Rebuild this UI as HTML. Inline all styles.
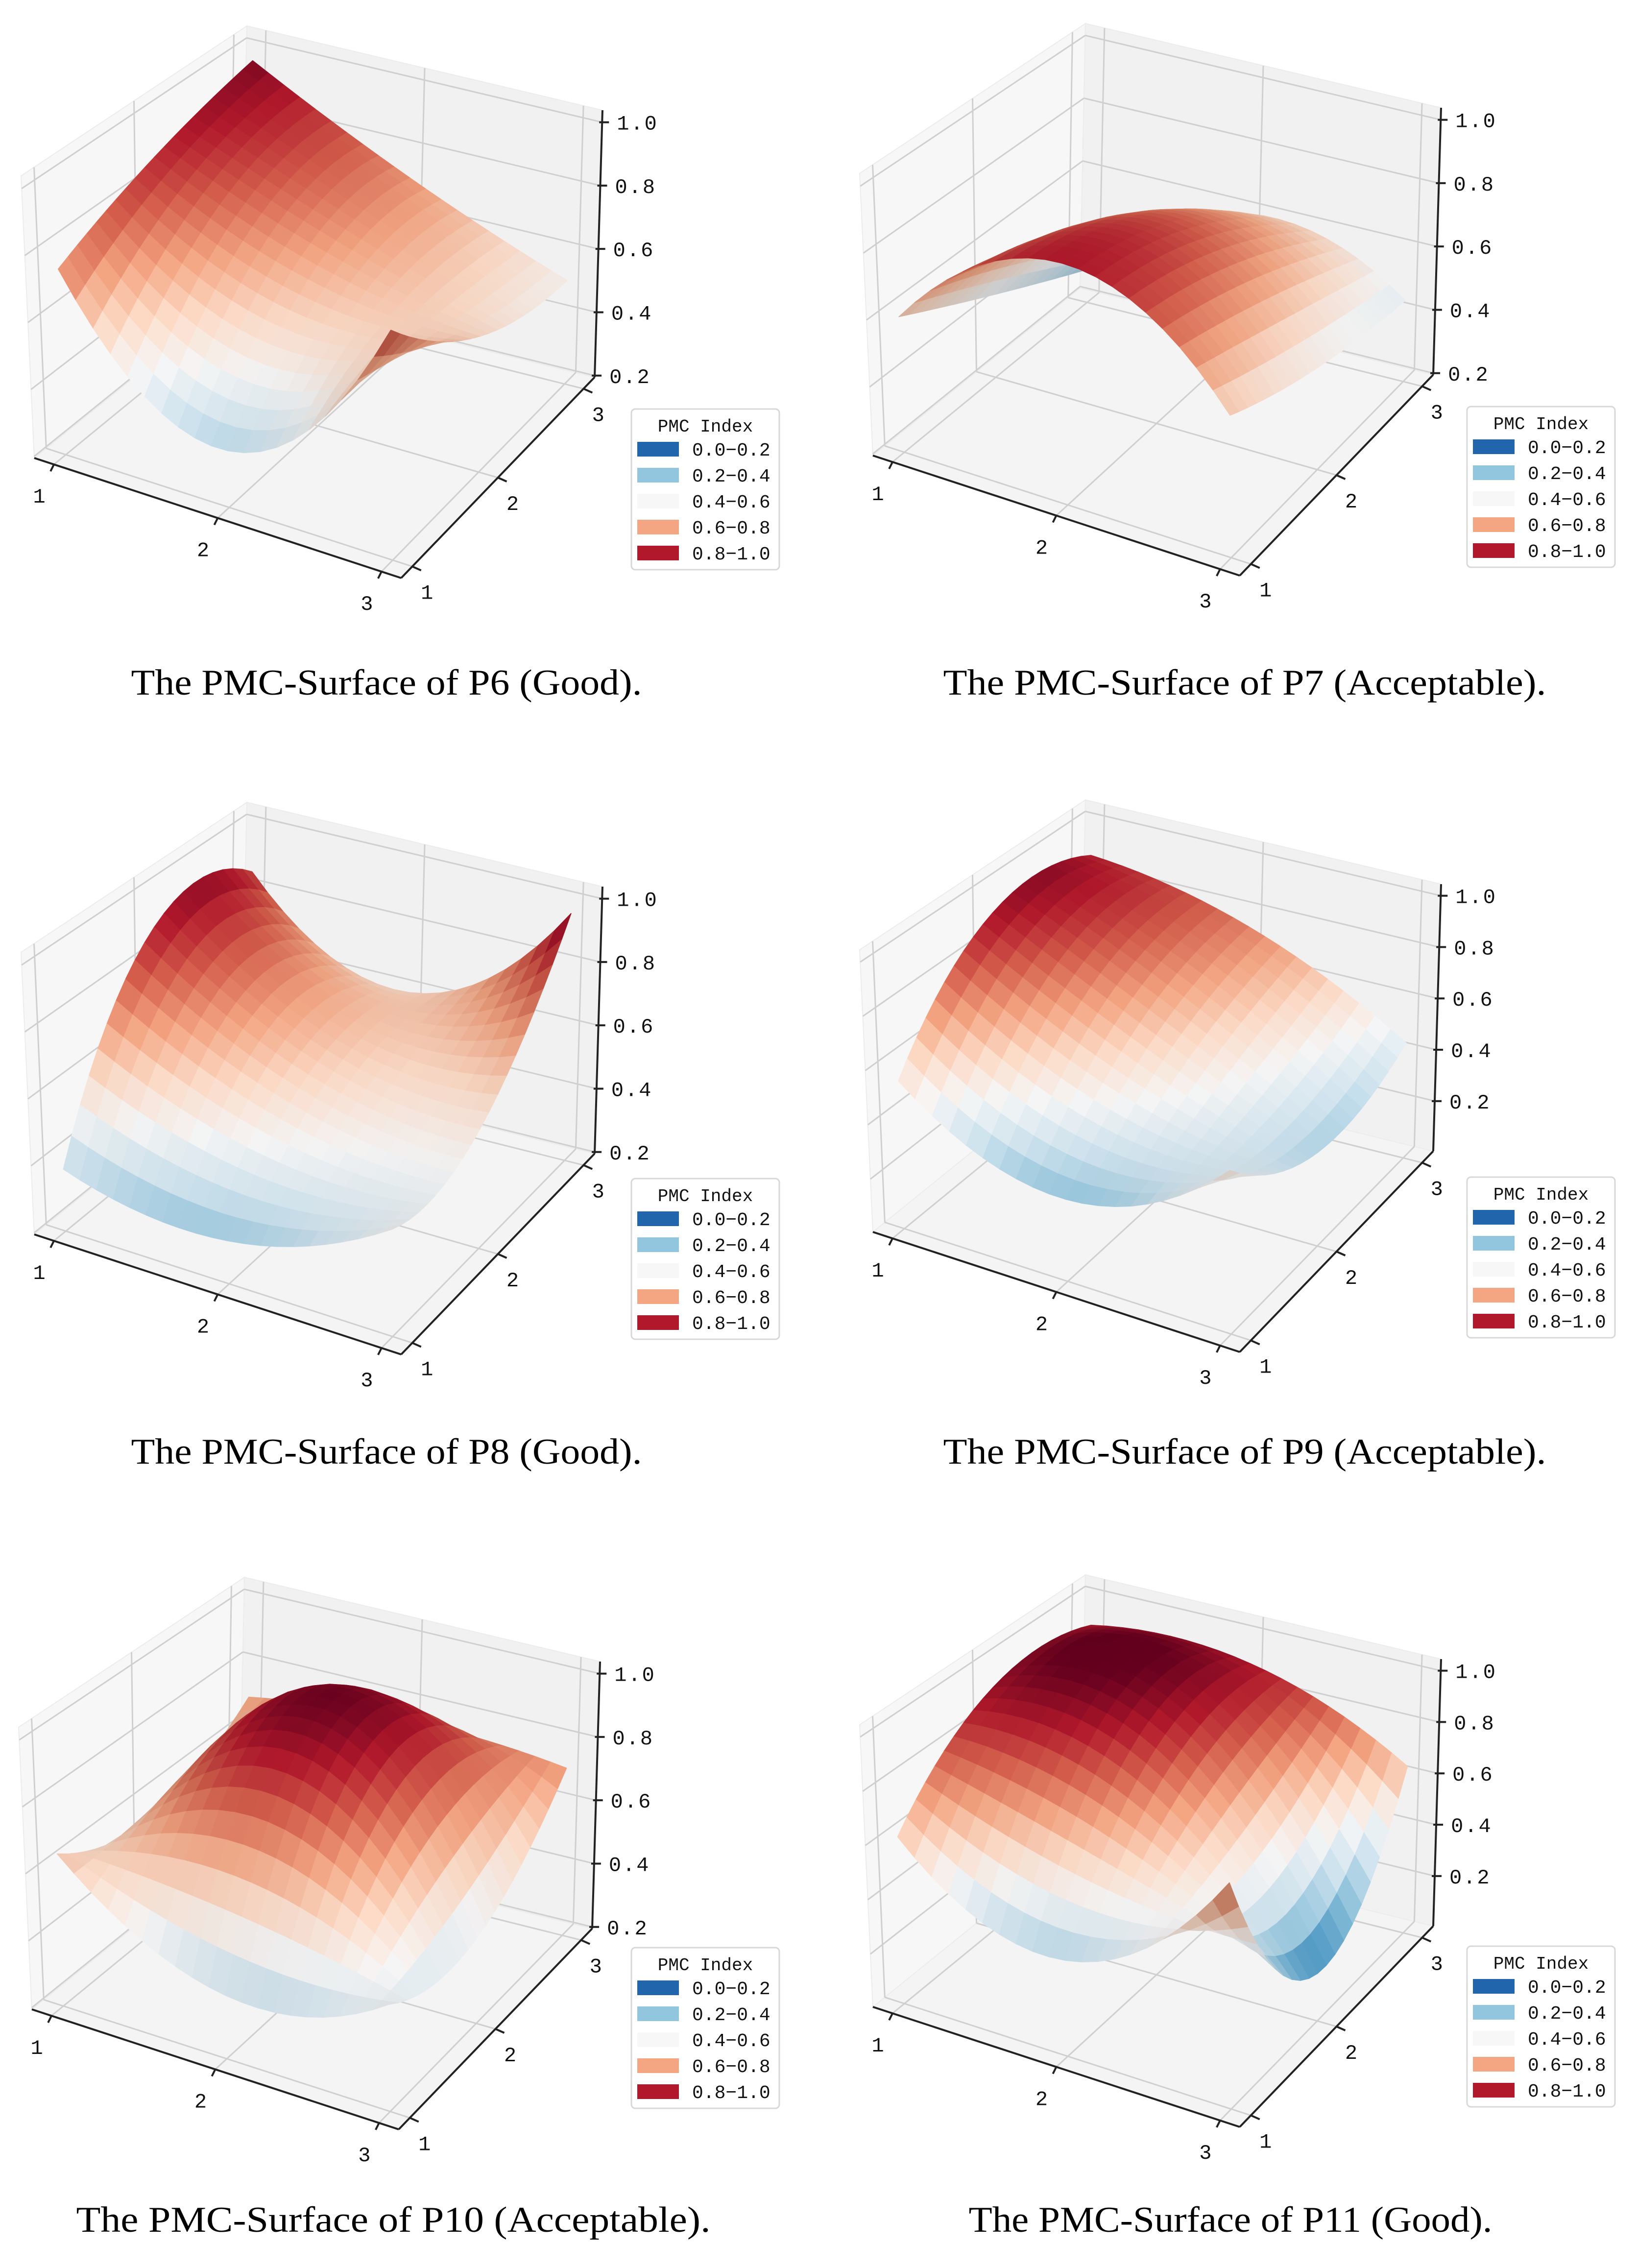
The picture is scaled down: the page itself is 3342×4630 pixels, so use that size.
<!DOCTYPE html>
<html><head><meta charset="utf-8">
<style>
html,body{margin:0;padding:0;background:#fff;}
svg{display:block;}
</style></head>
<body>
<svg id="fig" xmlns="http://www.w3.org/2000/svg" width="3342" height="4630" viewBox="0 0 3342 4630">
<rect x="0" y="0" width="3342" height="4630" fill="#ffffff"/>
</svg>
<script>
// ---- data (3x3 PMC matrices, index [x-1][y-1]) ----
const axisTicks = [1, 2, 3];
const zTickValues = [0.2, 0.4, 0.6, 0.8, 1.0];
const zTickLabels = ["0.2", "0.4", "0.6", "0.8", "1.0"];
const legendTitle = "PMC Index";
const legendLabels = ["0.0\u22120.2", "0.2\u22120.4", "0.4\u22120.6", "0.6\u22120.8", "0.8\u22121.0"];
const legendColors = ["#2166ac", "#92c5de", "#f7f7f7", "#f4a582", "#b2182b"];
const panelNames = ["P6", "P7", "P8", "P9", "P10", "P11"];
const panelCaptions = ["The PMC-Surface of P6 (Good).", "The PMC-Surface of P7 (Acceptable).",
  "The PMC-Surface of P8 (Good).", "The PMC-Surface of P9 (Acceptable).",
  "The PMC-Surface of P10 (Acceptable).", "The PMC-Surface of P11 (Good)."];
const p6Values  = [[0.75, 0.88, 0.97], [0.36, 0.68, 0.72], [0.85, 0.60, 0.52]];
const p7Values  = [[0.60, 0.45, 0.30], [0.90, 0.82, 0.60], [0.60, 0.50, 0.45]];
const p8Values  = [[0.38, 0.90, 0.86], [0.32, 0.62, 0.60], [0.50, 0.55, 0.97]];
const p9Values  = [[0.55, 0.92, 0.88], [0.30, 0.62, 0.75], [0.58, 0.35, 0.45]];
const p10Values = [[0.65, 0.55, 0.70], [0.38, 0.97, 0.75], [0.50, 0.45, 0.72]];
const p11Values = [[0.62, 0.92, 0.90], [0.35, 0.85, 0.90], [0.80, 0.18, 0.65]];
const zLimLow  = [0.195, 0.195, 0.195, 0.005, 0.195, 0.005];
const zLimHigh = [1.038, 1.038, 1.038, 1.045, 1.038, 1.045];
</script>
<script>
const svg = document.getElementById('fig');
const NS = 'http://www.w3.org/2000/svg';
const allValues = [p6Values, p7Values, p8Values, p9Values, p10Values, p11Values];
const layout = [
  {ox:0, oy:0, lx:1289, ly:835, cx:789, cy:1418, cw:1043},
  {ox:1712, oy:-5, lx:2995, ly:830, cx:2541, cy:1418, cw:1231},
  {ox:0, oy:1585, lx:1289, ly:2406, cx:789, cy:2988, cw:1043},
  {ox:1712, oy:1580, lx:2995, ly:2403, cx:2541, cy:2988, cw:1231},
  {ox:-5, oy:3167, lx:1289, ly:3976, cx:803, cy:4556, cw:1295},
  {ox:1712, oy:3162, lx:2995, ly:3973, cx:2512, cy:4556, cw:1069}
];
const X0 = 0.88, X1 = 3.12, Y0 = 0.87, Y1 = 3.13;
const C = {FL:[70,935,576,-27], FR:[819,1180,610,-5], BR:[1214,770,545,16], BK:[493,593,540,11]};
function bil(k,u,v){return C.FL[k]*(1-u)*(1-v)+C.FR[k]*u*(1-v)+C.BR[k]*u*v+C.BK[k]*(1-u)*v;}
function mk(tag, attrs, parent){const e=document.createElementNS(NS,tag);for(const k in attrs)e.setAttribute(k,attrs[k]);(parent||svg).appendChild(e);return e;}
const stops=[[0,[5,48,97]],[0.1,[33,102,172]],[0.2,[67,147,195]],[0.3,[146,197,222]],[0.4,[209,229,240]],[0.5,[247,247,247]],[0.6,[253,219,199]],[0.7,[244,165,130]],[0.8,[214,96,77]],[0.9,[178,24,43]],[1,[103,0,31]]];
function cmap(t){t=Math.max(0,Math.min(1,t));for(let i=1;i<stops.length;i++){if(t<=stops[i][0]){const a=stops[i-1],b=stops[i];const f=(t-a[0])/(b[0]-a[0]);return a[1].map((c,j)=>c+(b[1][j]-c)*f);}}return stops[stops.length-1][1];}
function interp(g,x,y){const L=t=>[(t-2)*(t-3)/2,-(t-1)*(t-3),(t-1)*(t-2)/2];const a=L(x),b=L(y);let s=0;for(let i=0;i<3;i++)for(let j=0;j<3;j++)s+=g[i][j]*a[i]*b[j];return s;}

function drawPanel(idx){
  const P=layout[idx], z0=zLimLow[idx], z1=zLimHigh[idx], g=allValues[idx];
  const grp=mk('g',{});
  
  
  function pr(x,y,z){const u=(x-X0)/(X1-X0),v=(y-Y0)/(Y1-Y0),w=(z-z0)/(z1-z0);
    return [P.ox+bil(0,u,v)+w*bil(3,u,v), P.oy+bil(1,u,v)-w*bil(2,u,v)];}
  const pts=a=>a.map(p=>p[0].toFixed(1)+','+p[1].toFixed(1)).join(' ');
  const floor=mk('polygon',{points:pts([pr(X0,Y0,z0),pr(X1,Y0,z0),pr(X1,Y1,z0),pr(X0,Y1,z0)]),fill:'#f4f4f4',stroke:'#ececec','stroke-width':2},grp);
  
  const lw=mk('polygon',{points:pts([pr(X0,Y0,z0),pr(X0,Y1,z0),pr(X0,Y1,z1),pr(X0,Y0,z1)]),fill:'#f7f7f7',stroke:'#ececec','stroke-width':2},grp);
  
  const bw=mk('polygon',{points:pts([pr(X0,Y1,z0),pr(X1,Y1,z0),pr(X1,Y1,z1),pr(X0,Y1,z1)]),fill:'#f1f1f1',stroke:'#ececec','stroke-width':2},grp);
  
  const gl=(a,b,name)=>{const l=mk('line',{x1:a[0],y1:a[1],x2:b[0],y2:b[1],stroke:'#cfcfcf','stroke-width':3},grp);};
  axisTicks.forEach(t=>{
    gl(pr(t,Y0,z0),pr(t,Y1,z0),'floor-grid-x');
    gl(pr(t,Y1,z0),pr(t,Y1,z1),'back-grid-x');
    gl(pr(X0,t,z0),pr(X1,t,z0),'floor-grid-y');
    gl(pr(X0,t,z0),pr(X0,t,z1),'left-grid-y');
  });
  zTickValues.forEach(t=>{
    if(t<z0||t>z1)return;
    gl(pr(X0,Y0,t),pr(X0,Y1,t),'left-grid-z');
    gl(pr(X0,Y1,t),pr(X1,Y1,t),'back-grid-z');
  });
  const N=20, facets=[];
  for(let i=0;i<N;i++)for(let j=0;j<N;j++){
    const xa=1+2*i/N, xb=1+2*(i+1)/N, ya=1+2*j/N, yb=1+2*(j+1)/N;
    const zaa=interp(g,xa,ya), zba=interp(g,xb,ya), zbb=interp(g,xb,yb), zab=interp(g,xa,yb);
    const zm=(zaa+zba+zbb+zab)/4;
    const du=((zba+zbb)-(zaa+zab))/2/(z1-z0)*2.24/(2/N)*0.5, dv=((zab+zbb)-(zaa+zba))/2/(z1-z0)*2.26/(2/N)*0.5;
    const n=[-du,-dv,1], nl=Math.hypot(n[0],n[1],n[2]);
    const L=[0.45,-0.35,0.82], Ll=Math.hypot(L[0],L[1],L[2]);
    const d=(n[0]*L[0]+n[1]*L[1]+n[2]*L[2])/nl/Ll;
    const f=0.78+0.22*d;
    const c=cmap(zm).map(v=>Math.round(Math.max(0,Math.min(255,v*f))));
    const depth=((xa+xb)/2-(ya+yb)/2);
    facets.push({p:[pr(xa,ya,zaa),pr(xb,ya,zba),pr(xb,yb,zbb),pr(xa,yb,zab)],c:'rgb('+c.join(',')+')',depth});
  }
  facets.sort((a,b)=>a.depth-b.depth);
  const sg=mk('g',{},grp);
  
  facets.forEach(ft=>{const e=mk('polygon',{points:pts(ft.p),fill:ft.c,stroke:ft.c,'stroke-width':1.5,'stroke-linejoin':'round'},sg);
    });
  const al=(a,b,name)=>{const l=mk('line',{x1:a[0],y1:a[1],x2:b[0],y2:b[1],stroke:'#222','stroke-width':4},grp);return l;};
  al(pr(X0,Y0,z0),pr(X1,Y0,z0),'x-axis-line');
  al(pr(X1,Y0,z0),pr(X1,Y1,z0),'y-axis-line');
  al(pr(X1,Y1,z0),pr(X1,Y1,z1),'z-axis-line');
  const txt=(x,y,s,size,anchor,name)=>{const t=mk('text',{x:x,y:y,'font-family':'"Liberation Mono","Noto Sans CJK SC",monospace','font-size':size,fill:'#111','text-anchor':anchor},grp);t.textContent=s;return t;};
  axisTicks.forEach(t=>{
    const a=pr(t,Y0,z0);
    al(a,[a[0]-7,a[1]+14],'x-tick');
    txt(a[0]-30,a[1]+78,String(t),42,'middle','x-tick-label');
    const b=pr(X1,t,z0);
    al(b,[b[0]+18,b[1]+8],'y-tick');
    txt(b[0]+30,b[1]+66,String(t),42,'middle','y-tick-label');
  });
  zTickValues.forEach((t,k)=>{
    if(t<z0||t>z1)return;
    const a=pr(X1,Y1,t);
    al([a[0]-6,a[1]],[a[0]+14,a[1]],'z-tick');
    const tl=txt(a[0]+30,a[1]+15,zTickLabels[k],42,'start','z-tick-label');
    tl.setAttribute('letter-spacing','3');
  });
  const lg=mk('g',{},grp);
  
  mk('rect',{x:P.lx,y:P.ly,width:302,height:328,rx:8,fill:'#fff',stroke:'#d8d8d8','stroke-width':3},lg);
  const tt=mk('text',{x:P.lx+151,y:P.ly+46,'font-family':'"Liberation Mono","Noto Sans CJK SC",monospace','font-size':36,'text-anchor':'middle',fill:'#111'},lg);
  tt.textContent=legendTitle;
  legendLabels.forEach((lab,k)=>{
    const yy=P.ly+82+k*53;
    const r=mk('rect',{x:P.lx+12,y:yy-15,width:85,height:30,fill:legendColors[k]},lg);
    
    const t=mk('text',{x:P.lx+124,y:yy+13,'font-family':'"Liberation Mono","Noto Sans CJK SC",monospace','font-size':38,fill:'#111'},lg);
    t.textContent=lab;
  });
  const cap=mk('text',{x:P.cx,y:P.cy,'font-family':'"Liberation Serif",serif','font-size':74,'text-anchor':'middle',fill:'#000',textLength:P.cw,lengthAdjust:'spacingAndGlyphs'});
  cap.textContent=panelCaptions[idx];
  
  
}
for(let i=0;i<6;i++)drawPanel(i);
</script>
</body></html>
